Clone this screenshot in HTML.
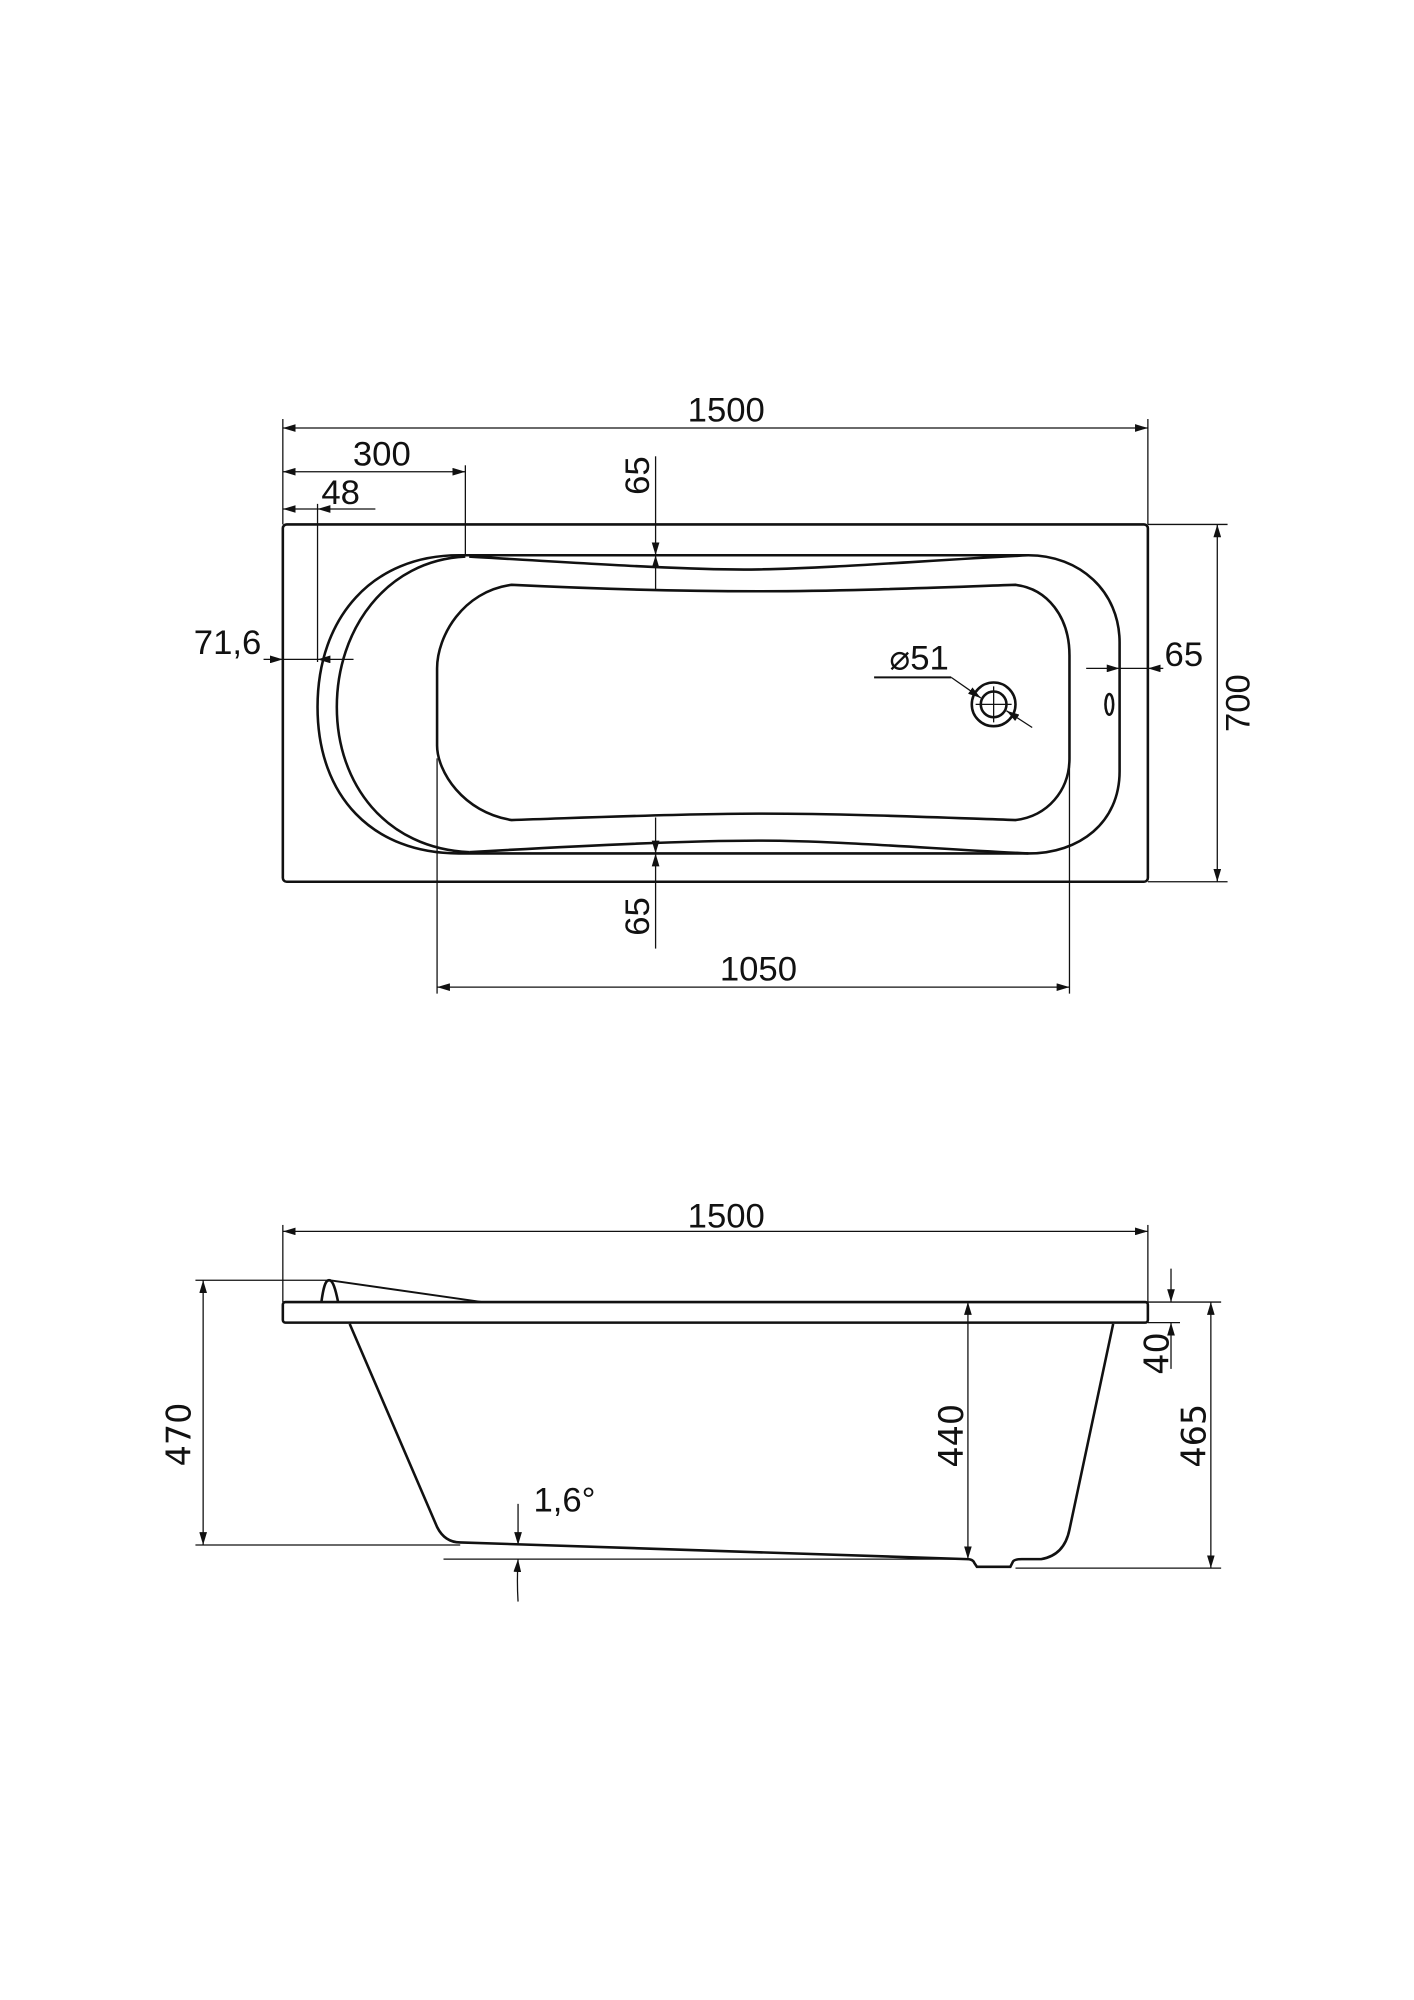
<!DOCTYPE html>
<html><head><meta charset="utf-8"><style>
html,body{margin:0;padding:0;background:#fff}
svg{display:block}
text{font-family:"Liberation Sans Narrow","Liberation Sans",sans-serif;font-size:27px;fill:#111}
.w{font-family:"DejaVu Sans","Liberation Sans",sans-serif;font-size:26px}
</style></head><body>
<svg width="1414" height="2000" viewBox="0 0 1100 1556" xmlns="http://www.w3.org/2000/svg">
<defs>
<marker id="a" viewBox="0 0 10 6" refX="10" refY="3" markerWidth="10" markerHeight="6" orient="auto-start-reverse" markerUnits="userSpaceOnUse"><path d="M0,0 L10,3 L0,6 z" fill="#111"/></marker>
</defs>
<g fill="none" stroke="#111" stroke-width="1">
<!-- top view dims -->
<line x1="220" y1="326" x2="220" y2="408"/><line x1="893" y1="326" x2="893" y2="408"/>
<line x1="220" y1="333" x2="893" y2="333" marker-start="url(#a)" marker-end="url(#a)"/>
<line x1="362" y1="362" x2="362" y2="432"/>
<line x1="220" y1="367" x2="362" y2="367" marker-start="url(#a)" marker-end="url(#a)"/>
<line x1="247" y1="392" x2="247" y2="515"/>
<line x1="220" y1="396" x2="247" y2="396" marker-start="url(#a)"/>
<line x1="292" y1="396" x2="247" y2="396" marker-end="url(#a)"/>
<line x1="205" y1="513" x2="220" y2="513" marker-end="url(#a)"/>
<line x1="275" y1="513" x2="247" y2="513" marker-end="url(#a)"/>
<line x1="220" y1="513" x2="247" y2="513"/>
<line x1="510" y1="355" x2="510" y2="432" marker-end="url(#a)"/>
<line x1="510" y1="432" x2="510" y2="459" marker-start="url(#a)"/>
<line x1="510" y1="738" x2="510" y2="664" marker-end="url(#a)"/>
<line x1="510" y1="664" x2="510" y2="636" marker-start="url(#a)"/>
<line x1="845" y1="520" x2="871" y2="520" marker-end="url(#a)"/>
<line x1="905" y1="520" x2="893" y2="520" marker-end="url(#a)"/>
<line x1="871" y1="520" x2="893" y2="520"/>
<line x1="893" y1="408" x2="955" y2="408"/><line x1="893" y1="686" x2="955" y2="686"/>
<line x1="947" y1="408" x2="947" y2="686" marker-start="url(#a)" marker-end="url(#a)"/>
<line x1="340" y1="590" x2="340" y2="773"/><line x1="832" y1="590" x2="832" y2="773"/>
<line x1="340" y1="768" x2="832" y2="768" marker-start="url(#a)" marker-end="url(#a)"/>
<line x1="680" y1="527" x2="740" y2="527" stroke-width="1.5"/>
<line x1="740" y1="527" x2="763" y2="543" marker-end="url(#a)"/>
<line x1="803" y1="566" x2="783" y2="553" marker-end="url(#a)"/>
</g>
<g fill="none" stroke="#111" stroke-width="2">
<rect x="220" y="408" width="673" height="278" rx="3"/>
<path d="M357,432 L800,432 C840,432 871,460 871,500 L871,600 C871,640 840,664 800,664 L357,664 C290,664 247,620 247,550 C247,480 290,432 357,432 Z"/>
<path d="M362,433 C300,436 262,490 262,550 C262,610 300,660 365,663"/>
<path d="M365,433 C450,438 540,444 590,443 C650,442 720,436 800,432"/>
<path d="M365,663 C450,658 540,654 590,654 C650,654 720,660 800,664"/>
<path d="M398,455 C460,458 530,460 590,460 C660,460 730,457 790,455 C815,458 832,480 832,510 L832,590 C832,615 815,635 790,638 C730,636 660,633 590,633 C530,633 460,636 398,638 C360,632 340,600 340,580 L340,520 C340,495 360,460 398,455 Z"/>
<circle cx="773" cy="548" r="17"/><circle cx="773" cy="548" r="10"/>
<ellipse cx="863" cy="548" rx="3" ry="8"/>
</g>
<g stroke="#111" stroke-width="1"><line x1="759" y1="548" x2="787" y2="548"/><line x1="773" y1="534" x2="773" y2="562"/></g>
<text x="565" y="328" text-anchor="middle">1500</text>
<text x="297" y="362" text-anchor="middle">300</text>
<text x="265" y="392" text-anchor="middle">48</text>
<text x="177" y="509" text-anchor="middle">71,6</text>
<text x="921" y="518" text-anchor="middle">65</text>
<text x="590" y="763" text-anchor="middle">1050</text>
<text x="715" y="521" text-anchor="middle">⌀51</text>
<text transform="translate(505,370) rotate(-90)" text-anchor="middle">65</text>
<text transform="translate(505,713) rotate(-90)" text-anchor="middle">65</text>
<text transform="translate(972,547) rotate(-90)" text-anchor="middle">700</text>
<!-- side view -->
<g fill="none" stroke="#111" stroke-width="1">
<line x1="220" y1="953" x2="220" y2="1013"/><line x1="893" y1="953" x2="893" y2="1013"/>
<line x1="220" y1="958" x2="893" y2="958" marker-start="url(#a)" marker-end="url(#a)"/>
<line x1="152" y1="996" x2="256" y2="996"/><line x1="152" y1="1202" x2="358" y2="1202"/>
<line x1="158" y1="996" x2="158" y2="1202" marker-start="url(#a)" marker-end="url(#a)"/>
<line x1="753" y1="1013" x2="753" y2="1213" marker-start="url(#a)" marker-end="url(#a)"/>
<line x1="893" y1="1013" x2="950" y2="1013"/><line x1="790" y1="1220" x2="950" y2="1220"/>
<line x1="942" y1="1013" x2="942" y2="1220" marker-start="url(#a)" marker-end="url(#a)"/>
<line x1="893" y1="1029" x2="918" y2="1029"/>
<line x1="911" y1="987" x2="911" y2="1013" marker-end="url(#a)"/>
<line x1="911" y1="1065" x2="911" y2="1029" marker-end="url(#a)"/>
<line x1="345" y1="1213" x2="752" y2="1213"/>
<line x1="403" y1="1170" x2="403" y2="1202" marker-end="url(#a)"/>
<path d="M403,1246 Q402,1230 403,1213" marker-end="url(#a)"/>
</g>
<g fill="none" stroke="#111" stroke-width="2">
<rect x="220" y="1013" width="673" height="16" rx="2"/>
<path d="M250,1013 C252,998 254,996 256,996 C259,996 261,1003 263,1013"/>
<path d="M256,996 L375,1013" stroke-width="1.5"/>
<path d="M272,1030 L340,1188 Q346,1200 358,1200 L752,1213 Q757,1213 758,1216 L760,1219 L786,1219 L788,1215 Q789,1213 795,1213 L810,1213 Q828,1210 832,1190 L866,1030"/>
</g>
<text x="565" y="955" text-anchor="middle">1500</text>
<text x="415" y="1176">1,6°</text>
<text class="w" transform="translate(148,1116) rotate(-90)" text-anchor="middle">470</text>
<text class="w" transform="translate(749,1117) rotate(-90)" text-anchor="middle">440</text>
<text class="w" transform="translate(938,1117) rotate(-90)" text-anchor="middle">465</text>
<text class="w" transform="translate(909,1053) rotate(-90)" text-anchor="middle">40</text>
</svg>
</body></html>
